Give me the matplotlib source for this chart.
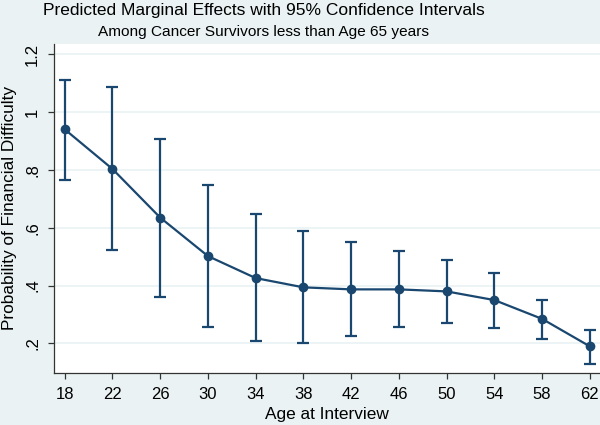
import matplotlib
matplotlib.use("Agg")
import matplotlib.pyplot as plt

ages = [18, 22, 26, 30, 34, 38, 42, 46, 50, 54, 58, 62]
margins = [0.94, 0.803, 0.635, 0.502, 0.426, 0.394, 0.387, 0.387, 0.380, 0.350, 0.285, 0.190]
ci_upper = [1.112, 1.085, 0.907, 0.748, 0.647, 0.589, 0.549, 0.518, 0.488, 0.443, 0.352, 0.246]
ci_lower = [0.765, 0.522, 0.359, 0.258, 0.208, 0.200, 0.227, 0.256, 0.271, 0.255, 0.215, 0.130]
yticks = [0.2, 0.4, 0.6, 0.8, 1.0, 1.2]
ytick_labels = [".2", ".4", ".6", ".8", "1", "1.2"]

plt.rcParams['font.family'] = ['Liberation Sans', 'DejaVu Sans']
bg = '#EAF2F3'
navy = '#1A476F'

fig = plt.figure(figsize=(6, 4.25), dpi=100, facecolor=bg)
ax = fig.add_axes([54/600, 1 - 373/425, 1 - 54/600, (373 - 44)/425])
ax.set_facecolor('white')

yerr = [[m - l for m, l in zip(margins, ci_lower)], [u - m for m, u in zip(margins, ci_upper)]]
ax.errorbar(ages, margins, yerr=yerr, color=navy, marker='o', markersize=6,
            linewidth=1.6, elinewidth=1.6, capsize=4, capthick=1.6, zorder=3)

ax.set_xlim(17.1, 62.85)
ax.set_ylim(0.098, 1.235)
ax.set_xticks(ages)
ax.set_xticklabels([str(a) for a in ages], fontsize=12)
ax.set_yticks(yticks)
ax.set_yticklabels(ytick_labels, fontsize=12, rotation=90, va='center')
ax.grid(axis='y', color=bg, linewidth=1.2, zorder=0)
ax.set_axisbelow(True)
for s in ['top', 'right']:
    ax.spines[s].set_visible(False)
for s in ['left', 'bottom']:
    ax.spines[s].set_color('#333333')
    ax.spines[s].set_linewidth(0.9)
ax.tick_params(direction='out', length=4, width=0.9, color='#333333', pad=6)

ax.set_xlabel('Age at Interview', fontsize=12.4, labelpad=4)
ax.set_ylabel('Probability of Financial Difficulty', fontsize=12.4, labelpad=6)

fig.text(0.44, 1 - 11/425, 'Predicted Marginal Effects with 95% Confidence Intervals',
         ha='center', va='center', fontsize=12.55)
fig.text(0.44, 1 - 32/425, 'Among Cancer Survivors less than Age 65 years',
         ha='center', va='center', fontsize=11.07)

fig.savefig('out.png', dpi=100, facecolor=bg)
